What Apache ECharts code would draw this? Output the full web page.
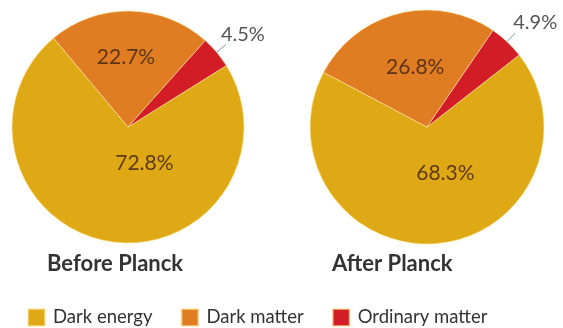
<!DOCTYPE html>
<html>
<head>
<meta charset="utf-8">
<script src="https://cdn.jsdelivr.net/npm/echarts@6/dist/echarts.min.js"></script>
<style>
  html, body { margin: 0; padding: 0; background: #fff; }
  #main { width: 563px; height: 328px; }
</style>
</head>
<body>
<div id="main"></div>
<script>
var categories = ['Dark energy', 'Dark matter', 'Ordinary matter'];
var beforeValues = [72.8, 22.7, 4.5];
var afterValues = [68.3, 26.8, 4.9];
var pieTitles = ['Before Planck', 'After Planck'];
var colors = ['#dfa915', '#e07c22', '#d21d26'];

var myChart = echarts.init(document.getElementById('main'));

// label tweaks per slice (inside for big ones, outside for the small one)
function buildData(values, offsets) {
    return values.map(function (v, i) {
        var item = { name: categories[i], value: v };
        if (i < 2) {
            item.label = { position: 'inside', offset: offsets[i] };
            item.labelLine = { show: false };
        } else {
            item.label = { position: 'outside', offset: offsets[2], color: '#555', fontSize: 20, overflow: 'none' };
            item.labelLine = { show: true, length: 12, length2: 0, lineStyle: { color: '#7f9aa6', width: 1 } };
        }
        return item;
    });
}

function pieSeries(values, center, radius, startAngle, offsets) {
    return {
        type: 'pie',
        center: center,
        radius: radius,
        startAngle: startAngle,
        clockwise: true,
        animation: false,
        silent: true,
        itemStyle: { borderColor: 'rgba(255,230,160,0.6)', borderWidth: 1 },
        label: {
            show: true,
            formatter: '{c}%',
            fontFamily: 'Lato',
            fontSize: 21,
            color: 'rgba(70,40,20,0.85)'
        },
        data: buildData(values, offsets)
    };
}

option = {
    color: colors,
    animation: false,
    title: [
        { text: pieTitles[0], left: 47, top: 253, padding: 0, textStyle: { fontFamily: 'Lato', fontSize: 22, fontWeight: 'bold', color: '#333' } },
        { text: pieTitles[1], left: 332, top: 253, padding: 0, textStyle: { fontFamily: 'Lato', fontSize: 22, fontWeight: 'bold', color: '#333' } }
    ],
    legend: {
        data: categories,
        left: 27,
        top: 308,
        padding: 0,
        icon: 'rect',
        itemWidth: 17,
        itemHeight: 17,
        itemGap: 28,
        textStyle: { fontFamily: 'Lato', fontSize: 18.5, color: '#333', padding: [0, 0, 0, 3] }
    },
    series: [
        pieSeries(beforeValues, [128, 127], 116, 32, [[26, -24], [-3, -9], [-10, -10]]),
        pieSeries(afterValues, [427, 127], 117, 38, [[13, -15], [3, 0], [-7, -10]])
    ]
};
myChart.setOption(option);
</script>
</body>
</html>
